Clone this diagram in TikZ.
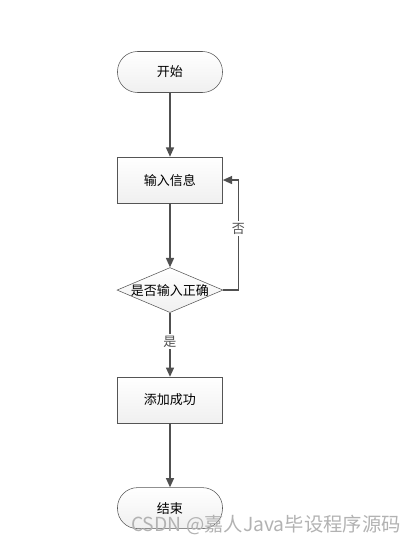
\documentclass[tikz,border=0pt]{standalone}
\usepackage{fontspec}
\setmainfont{Noto Sans CJK SC}
\usepackage{tikz}
\usetikzlibrary{positioning}
\usetikzlibrary{shapes.geometric}
\usetikzlibrary{arrows.meta}
\definecolor{edgegray}{HTML}{555555}
\definecolor{linegray}{HTML}{505050}
\newcommand\flowfont{\fontsize{9.75}{12}\selectfont}

\begin{document}
\begin{tikzpicture}[x=0.75pt, y=0.75pt, node distance=48pt,
  terminal/.style={rectangle, rounded corners=15pt, draw=edgegray, top color=white, bottom color=gray!12,
    minimum width=78.75pt, minimum height=30.75pt, font=\flowfont},
  process/.style={rectangle, draw=edgegray, top color=white, bottom color=gray!12,
    minimum width=78.75pt, minimum height=34.5pt, font=\flowfont},
  decision/.style={diamond, draw=edgegray, top color=white, bottom color=gray!12,
    minimum width=79.5pt, minimum height=33.75pt, inner sep=0pt},
  flow/.style={-{Triangle[length=7pt, width=6pt]}, line width=1.1pt, linegray},
  tag/.style={fill=white, inner sep=1.5pt, font=\flowfont}]

  \useasboundingbox (-170, 72) rectangle (244, -475);

  \node[terminal] (start) at (0, 0) {开始};
  \node[process, below=of start] (info) {输入信息};
  \node[decision, below=of info, label={[font=\flowfont]center:是否输入正确}] (check) {};
  \node[process, below=of check] (add) {添加成功};
  \node[terminal, below=of add] (stop) {结束};

  \draw[flow] (start) -- (info);
  \draw[flow] (info) -- (check);
  \draw[flow] (check) -- node[tag, pos=0.45] {是} (add);
  \draw[flow] (add) -- (stop);
  \draw[flow] (check.east) -- ++(15, 0) |- node[tag, pos=0.28] {否} (info.east);

  \node[text=gray!60, font=\fontsize{14.5}{18}\selectfont] (mark) at (96, -453) {CSDN @嘉人Java毕设程序源码};

\end{tikzpicture}
\end{document}
